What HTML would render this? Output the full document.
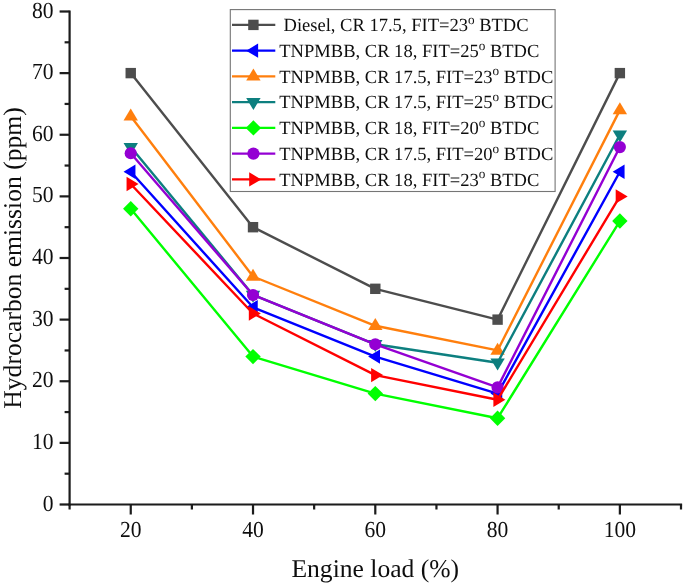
<!DOCTYPE html>
<html><head><meta charset="utf-8"><title>Hydrocarbon emission vs engine load</title>
<style>html,body{margin:0;padding:0;background:#fff}svg{display:block;will-change:transform;font-family:"Liberation Serif",serif}text{fill:#111;text-rendering:geometricPrecision}</style></head><body>
<svg width="685" height="586" viewBox="0 0 685 586">
<defs><filter id="soft" x="0" y="0" width="685" height="586" filterUnits="userSpaceOnUse"><feGaussianBlur stdDeviation="0.38"/></filter></defs>
<rect width="685" height="586" fill="#fff"/>
<g filter="url(#soft)">
<polyline points="130.74,73.12 253.02,227.19 375.30,288.81 497.58,319.62 619.86,73.12" fill="none" stroke="#4d4d4d" stroke-width="2.4" stroke-linejoin="round"/>
<rect x="125.54" y="67.92" width="10.4" height="10.4" fill="#4d4d4d"/>
<rect x="247.82" y="221.99" width="10.4" height="10.4" fill="#4d4d4d"/>
<rect x="370.10" y="283.61" width="10.4" height="10.4" fill="#4d4d4d"/>
<rect x="492.38" y="314.43" width="10.4" height="10.4" fill="#4d4d4d"/>
<rect x="614.66" y="67.92" width="10.4" height="10.4" fill="#4d4d4d"/>
<polyline points="130.74,171.73 253.02,307.30 375.30,356.60 497.58,393.57 619.86,171.73" fill="none" stroke="#0000ff" stroke-width="2.4" stroke-linejoin="round"/>
<polygon points="123.54,171.73 135.44,164.53 135.44,178.93" fill="#0000ff"/>
<polygon points="245.82,307.30 257.72,300.10 257.72,314.50" fill="#0000ff"/>
<polygon points="368.10,356.60 380.00,349.40 380.00,363.80" fill="#0000ff"/>
<polygon points="490.38,393.57 502.28,386.38 502.28,400.77" fill="#0000ff"/>
<polygon points="612.66,171.73 624.56,164.53 624.56,178.93" fill="#0000ff"/>
<polyline points="130.74,116.26 253.02,276.49 375.30,325.79 497.58,350.44 619.86,110.10" fill="none" stroke="#ff7f0e" stroke-width="2.4" stroke-linejoin="round"/>
<polygon points="130.74,108.46 137.94,120.46 123.54,120.46" fill="#ff7f0e"/>
<polygon points="253.02,268.69 260.22,280.69 245.82,280.69" fill="#ff7f0e"/>
<polygon points="375.30,317.99 382.50,329.99 368.10,329.99" fill="#ff7f0e"/>
<polygon points="497.58,342.64 504.78,354.64 490.38,354.64" fill="#ff7f0e"/>
<polygon points="619.86,102.30 627.06,114.30 612.66,114.30" fill="#ff7f0e"/>
<polyline points="130.74,147.08 253.02,294.98 375.30,344.27 497.58,362.76 619.86,134.75" fill="none" stroke="#0a7f7f" stroke-width="2.4" stroke-linejoin="round"/>
<polygon points="130.74,154.88 137.94,142.88 123.54,142.88" fill="#0a7f7f"/>
<polygon points="253.02,302.78 260.22,290.78 245.82,290.78" fill="#0a7f7f"/>
<polygon points="375.30,352.07 382.50,340.07 368.10,340.07" fill="#0a7f7f"/>
<polygon points="497.58,370.56 504.78,358.56 490.38,358.56" fill="#0a7f7f"/>
<polygon points="619.86,142.55 627.06,130.55 612.66,130.55" fill="#0a7f7f"/>
<polyline points="130.74,208.70 253.02,356.60 375.30,393.57 497.58,418.23 619.86,221.03" fill="none" stroke="#00ff00" stroke-width="2.4" stroke-linejoin="round"/>
<polygon points="130.74,201.00 138.44,208.70 130.74,216.40 123.04,208.70" fill="#00ff00"/>
<polygon points="253.02,348.90 260.72,356.60 253.02,364.30 245.32,356.60" fill="#00ff00"/>
<polygon points="375.30,385.88 383.00,393.57 375.30,401.27 367.60,393.57" fill="#00ff00"/>
<polygon points="497.58,410.53 505.28,418.23 497.58,425.93 489.88,418.23" fill="#00ff00"/>
<polygon points="619.86,213.33 627.56,221.03 619.86,228.73 612.16,221.03" fill="#00ff00"/>
<polyline points="130.74,153.24 253.02,294.98 375.30,344.27 497.58,387.41 619.86,147.08" fill="none" stroke="#9400d3" stroke-width="2.4" stroke-linejoin="round"/>
<circle cx="130.74" cy="153.24" r="6.1" fill="#9400d3"/>
<circle cx="253.02" cy="294.98" r="6.1" fill="#9400d3"/>
<circle cx="375.30" cy="344.27" r="6.1" fill="#9400d3"/>
<circle cx="497.58" cy="387.41" r="6.1" fill="#9400d3"/>
<circle cx="619.86" cy="147.08" r="6.1" fill="#9400d3"/>
<polyline points="130.74,184.05 253.02,313.46 375.30,375.09 497.58,399.74 619.86,196.38" fill="none" stroke="#ff0000" stroke-width="2.4" stroke-linejoin="round"/>
<polygon points="138.54,184.05 126.54,176.85 126.54,191.25" fill="#ff0000"/>
<polygon points="260.82,313.46 248.82,306.26 248.82,320.66" fill="#ff0000"/>
<polygon points="383.10,375.09 371.10,367.89 371.10,382.29" fill="#ff0000"/>
<polygon points="505.38,399.74 493.38,392.54 493.38,406.94" fill="#ff0000"/>
<polygon points="627.66,196.38 615.66,189.18 615.66,203.57" fill="#ff0000"/>
<g stroke="#1a1a1a" stroke-width="2.2" fill="none" stroke-linecap="butt">
<path d="M69.60,10.40 V505.60"/>
<path d="M68.50,504.50 H682.10"/>
<path d="M59.60,504.50 H69.60"/>
<path d="M64.60,473.69 H69.60"/>
<path d="M59.60,442.88 H69.60"/>
<path d="M64.60,412.06 H69.60"/>
<path d="M59.60,381.25 H69.60"/>
<path d="M64.60,350.44 H69.60"/>
<path d="M59.60,319.62 H69.60"/>
<path d="M64.60,288.81 H69.60"/>
<path d="M59.60,258.00 H69.60"/>
<path d="M64.60,227.19 H69.60"/>
<path d="M59.60,196.38 H69.60"/>
<path d="M64.60,165.56 H69.60"/>
<path d="M59.60,134.75 H69.60"/>
<path d="M64.60,103.94 H69.60"/>
<path d="M59.60,73.12 H69.60"/>
<path d="M64.60,42.31 H69.60"/>
<path d="M59.60,11.50 H69.60"/>
<path d="M69.60,504.50 V509.50"/>
<path d="M130.74,504.50 V514.50"/>
<path d="M191.88,504.50 V509.50"/>
<path d="M253.02,504.50 V514.50"/>
<path d="M314.16,504.50 V509.50"/>
<path d="M375.30,504.50 V514.50"/>
<path d="M436.44,504.50 V509.50"/>
<path d="M497.58,504.50 V514.50"/>
<path d="M558.72,504.50 V509.50"/>
<path d="M619.86,504.50 V514.50"/>
<path d="M681.00,504.50 V509.50"/>
</g>
<g font-size="21.6">
<text transform="translate(53.5,510.50) scale(1,1.07)" text-anchor="end">0</text>
<text transform="translate(53.5,448.88) scale(1,1.07)" text-anchor="end">10</text>
<text transform="translate(53.5,387.25) scale(1,1.07)" text-anchor="end">20</text>
<text transform="translate(53.5,325.62) scale(1,1.07)" text-anchor="end">30</text>
<text transform="translate(53.5,264.00) scale(1,1.07)" text-anchor="end">40</text>
<text transform="translate(53.5,202.38) scale(1,1.07)" text-anchor="end">50</text>
<text transform="translate(53.5,140.75) scale(1,1.07)" text-anchor="end">60</text>
<text transform="translate(53.5,79.12) scale(1,1.07)" text-anchor="end">70</text>
<text transform="translate(53.5,17.50) scale(1,1.07)" text-anchor="end">80</text>
<text transform="translate(130.74,537.4) scale(1,1.06)" text-anchor="middle">20</text>
<text transform="translate(253.02,537.4) scale(1,1.06)" text-anchor="middle">40</text>
<text transform="translate(375.30,537.4) scale(1,1.06)" text-anchor="middle">60</text>
<text transform="translate(497.58,537.4) scale(1,1.06)" text-anchor="middle">80</text>
<text transform="translate(619.86,537.4) scale(1,1.06)" text-anchor="middle">100</text>
</g>
<text x="375.30" y="577.3" font-size="25.6" text-anchor="middle">Engine load (%)</text>
<text transform="translate(21.3,258.00) rotate(-90)" font-size="25.6" text-anchor="middle">Hydrocarbon emission (ppm)</text>
<rect x="230.3" y="9.6" width="324.8" height="181.9" fill="#fff" stroke="#757575" stroke-width="1.1"/>
<path d="M232,24.90 H275.3" stroke="#4d4d4d" stroke-width="2.4" fill="none"/>
<rect x="248.20" y="19.70" width="10.4" height="10.4" fill="#4d4d4d"/>
<text x="283.5" y="31.20" font-size="18.55">Diesel, CR 17.5, FIT=23<tspan font-size="13.2" dy="-7.4">o</tspan><tspan font-size="18.55" dy="7.4"> BTDC</tspan></text>
<path d="M232,50.65 H275.3" stroke="#0000ff" stroke-width="2.4" fill="none"/>
<polygon points="246.20,50.65 258.10,43.45 258.10,57.85" fill="#0000ff"/>
<text x="279.3" y="56.95" font-size="18.55">TNPMBB, CR 18, FIT=25<tspan font-size="13.2" dy="-7.4">o</tspan><tspan font-size="18.55" dy="7.4"> BTDC</tspan></text>
<path d="M232,76.40 H275.3" stroke="#ff7f0e" stroke-width="2.4" fill="none"/>
<polygon points="253.40,68.60 260.60,80.60 246.20,80.60" fill="#ff7f0e"/>
<text x="279.3" y="82.70" font-size="18.55">TNPMBB, CR 17.5, FIT=23<tspan font-size="13.2" dy="-7.4">o</tspan><tspan font-size="18.55" dy="7.4"> BTDC</tspan></text>
<path d="M232,102.15 H275.3" stroke="#0a7f7f" stroke-width="2.4" fill="none"/>
<polygon points="253.40,109.95 260.60,97.95 246.20,97.95" fill="#0a7f7f"/>
<text x="279.3" y="108.45" font-size="18.55">TNPMBB, CR 17.5, FIT=25<tspan font-size="13.2" dy="-7.4">o</tspan><tspan font-size="18.55" dy="7.4"> BTDC</tspan></text>
<path d="M232,127.90 H275.3" stroke="#00ff00" stroke-width="2.4" fill="none"/>
<polygon points="253.40,120.20 261.10,127.90 253.40,135.60 245.70,127.90" fill="#00ff00"/>
<text x="279.3" y="134.20" font-size="18.55">TNPMBB, CR 18, FIT=20<tspan font-size="13.2" dy="-7.4">o</tspan><tspan font-size="18.55" dy="7.4"> BTDC</tspan></text>
<path d="M232,153.65 H275.3" stroke="#9400d3" stroke-width="2.4" fill="none"/>
<circle cx="253.40" cy="153.65" r="6.1" fill="#9400d3"/>
<text x="279.3" y="159.95" font-size="18.55">TNPMBB, CR 17.5, FIT=20<tspan font-size="13.2" dy="-7.4">o</tspan><tspan font-size="18.55" dy="7.4"> BTDC</tspan></text>
<path d="M232,179.40 H275.3" stroke="#ff0000" stroke-width="2.4" fill="none"/>
<polygon points="261.20,179.40 249.20,172.20 249.20,186.60" fill="#ff0000"/>
<text x="279.3" y="185.70" font-size="18.55">TNPMBB, CR 18, FIT=23<tspan font-size="13.2" dy="-7.4">o</tspan><tspan font-size="18.55" dy="7.4"> BTDC</tspan></text>
</g>
</svg></body></html>
